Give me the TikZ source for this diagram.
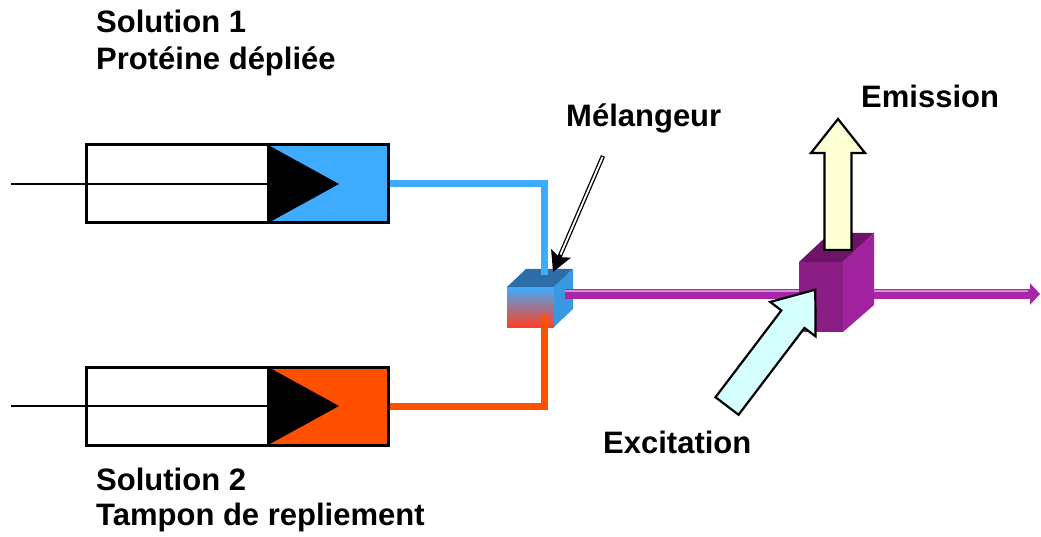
\documentclass[tikz,border=0pt]{standalone}
\usepackage{fontspec}
\setmainfont{Liberation Sans}
\usetikzlibrary{arrows.meta}

\definecolor{bleu}{HTML}{3FABFF}
\definecolor{orange}{HTML}{FF5000}
\definecolor{violet}{HTML}{A826A8}
\definecolor{violetclair}{HTML}{DA8ADA}
\definecolor{cubehaut}{HTML}{2B6EA8}
\definecolor{cubedroit}{HTML}{3898E0}
\definecolor{cuvface}{HTML}{8A1E85}
\definecolor{cuvhaut}{HTML}{6E1468}
\definecolor{cuvdroit}{HTML}{A0229E}
\definecolor{jaune}{HTML}{FFFFD6}
\definecolor{cyan}{HTML}{D6FFFF}

\tikzset{
	legende/.style={font=\fontsize{31}{37}\selectfont\bfseries, inner sep=0pt, anchor=base west},
	corps/.style={draw=black, line width=3pt},
	tube/.style={line width=7pt, line join=miter},
	grossefleche/.style={draw=black, line width=2.2pt, line join=miter},
	pointeur/.style={draw=black, line width=4.4pt,
		-{Stealth[length=20pt, width=21pt, inset=4pt]}}
}

\begin{document}
\begin{tikzpicture}[x=1pt, y=-1pt]
	\useasboundingbox (0,0) rectangle (1041,537);

	% seringues
	\foreach \y/\c/\i in {184/bleu/1, 406/orange/2} {
		\draw[corps, fill=white] (86,\y-39) rectangle (268,\y+39);
		\draw[corps, fill=\c] (268,\y-39) rectangle (388,\y+39);
		\fill[black] (268,\y-39) -- (339,\y) -- (268,\y+39) -- cycle;
		\draw[line width=2pt] (11,\y) -- (268,\y);
		\coordinate (bout\i) at (390,\y);
	}

	% melangeur
	\shade[top color=bleu, middle color={rgb,255:red,205;green,140;blue,205}, bottom color={rgb,255:red,255;green,64;blue,32}]
		(507,287) rectangle (554,327);
	\fill[cubehaut] (507,287) -- (526,269) -- (573,269) -- (554,287) -- cycle;
	\fill[cubedroit] (554,287) -- (573,269) -- (573,309) -- (554,327) -- cycle;
	\coordinate (entree1) at (544,275);
	\coordinate (entree2) at (544,315);
	\coordinate (sortie) at (565,294);

	\draw[tube, bleu] (bout1) -| (entree1);
	\draw[tube, orange] (bout2) -| (entree2);

	% faisceau
	\coordinate (fin) at (1040,294);
	\draw[violet, line width=9pt, -{Triangle[length=10pt, width=21pt]}] (sortie) -- (fin);
	\draw[violetclair, line width=1.5pt] (565,291) -- (1028,291);

	% cuve
	\fill[cuvface] (799,262) rectangle (843,332);
	\fill[cuvhaut] (799,262) -- (830,233) -- (874,233) -- (843,262) -- cycle;
	\fill[cuvdroit] (843,262) -- (874,233) -- (874,305) -- (843,332) -- cycle;

	% emission
	\draw[grossefleche, fill=jaune] (824.5,250) -- (824.5,153) -- (811,153) -- (838,119)
		-- (865,153) -- (851.5,153) -- (851.5,250) -- cycle;

	% excitation
	\begin{scope}[shift={(727,406)}, rotate=52.8]
		\draw[grossefleche, fill=cyan] (0,-14.5) -- (109,-14.5) -- (109,-28.5) -- (146,0)
			-- (109,28.5) -- (109,14.5) -- (0,14.5) -- cycle;
	\end{scope}

	% textes
	\node (sol1) [legende] at (96,33) {Solution 1};
	\node (prot) [legende] at (96,70) {Protéine dépliée};
	\node (sol2) [legende] at (96,490) {Solution 2};
	\node (tamp) [legende] at (96,525) {Tampon de repliement};
	\node (mel) [legende] at (566,127) {Mélangeur};
	\node (exc) [legende] at (603,453) {Excitation};
	\node (emi) [legende] at (861,108) {Emission};

	\coordinate (ptr) at (603,156);
	\coordinate (haut) at (553,272);
	\draw[pointeur] (ptr) -- (haut);
	\draw[white, line width=1.8pt, shorten <=1pt, shorten >=19pt] (ptr) -- (haut);
\end{tikzpicture}
\end{document}
